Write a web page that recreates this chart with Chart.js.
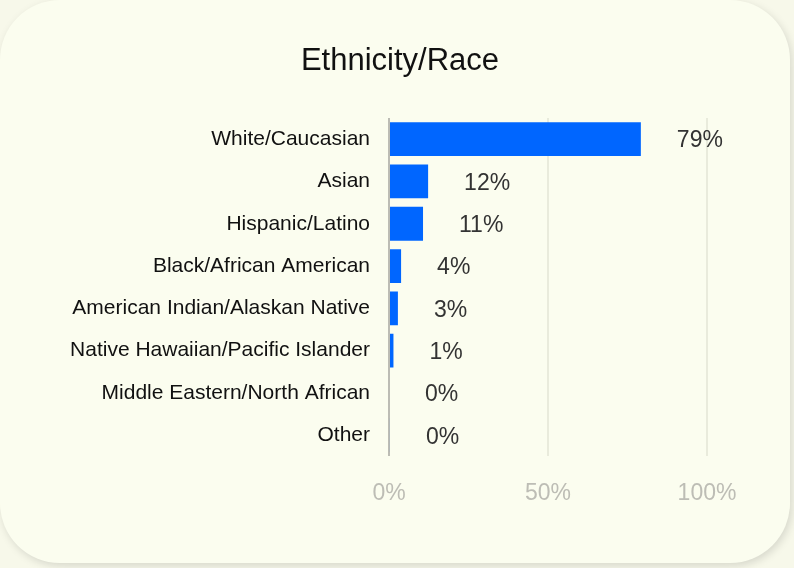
<!DOCTYPE html>
<html>
<head>
  <title>Ethnicity/Race</title>
  <style>
    html, body { margin: 0; padding: 0; background: #f7f8ea; }
    #card {
      position: absolute; left: 0; top: 0; width: 790px; height: 563px;
      background: #fbfdef; border-radius: 60px;
      box-shadow: 2px 3px 8px rgba(0, 0, 0, 0.13);
    }
    #chartBox { position: absolute; left: 0; top: 0; width: 794px; height: 568px; }
  </style>
</head>
<body>
  <div id="card"></div>
  <div id="chartBox"><canvas id="raceChart" width="794" height="568"></canvas></div>

  <script src="https://cdn.jsdelivr.net/npm/chart.js"></script>
  <script>
    const chartTitle = 'Ethnicity/Race';
    const categories = [
      'White/Caucasian',
      'Asian',
      'Hispanic/Latino',
      'Black/African American',
      'American Indian/Alaskan Native',
      'Native Hawaiian/Pacific Islander',
      'Middle Eastern/North African',
      'Other'
    ];
    const shares = [79.2, 12.3, 10.7, 3.8, 2.8, 1.4, 0, 0.3];
    const tickValues = [0, 50, 100];

    // title is centred on the card, not on the padded layout box
    const cardTitle = {
      id: 'cardTitle',
      afterDraw(chart) {
        const ctx = chart.ctx;
        ctx.save();
        ctx.font = '31px "Liberation Sans", Arial, sans-serif';
        ctx.fillStyle = '#111111';
        ctx.textAlign = 'center';
        ctx.textBaseline = 'middle';
        ctx.fillText(chartTitle, 400, 61);
        ctx.restore();
      }
    };

    const valueLabels = {
      id: 'valueLabels',
      afterDatasetsDraw(chart) {
        const ctx = chart.ctx;
        const meta = chart.getDatasetMeta(0);
        ctx.save();
        ctx.font = '23px "Liberation Sans", Arial, sans-serif';
        ctx.fillStyle = '#333333';
        ctx.textAlign = 'left';
        ctx.textBaseline = 'middle';
        meta.data.forEach((bar, i) => {
          ctx.fillText(Math.round(shares[i]) + '%', bar.x + 36, bar.y + 2);
        });
        ctx.restore();
      }
    };

    new Chart(document.getElementById('raceChart'), {
      type: 'bar',
      data: {
        labels: categories,
        datasets: [{
          data: shares,
          backgroundColor: '#0066ff',
          borderWidth: 0,
          barPercentage: 0.8,
          categoryPercentage: 1.0
        }]
      },
      options: {
        indexAxis: 'y',
        responsive: false,
        animation: false,
        layout: { padding: { left: 0, right: 87, top: 118, bottom: 38 } },
        plugins: {
          legend: { display: false },
          tooltip: { enabled: false },
          title: { display: false }
        },
        scales: {
          x: {
            min: 0,
            max: 100,
            afterBuildTicks(axis) { axis.ticks = tickValues.map(v => ({ value: v })); },
            ticks: {
              color: '#bdbdb5',
              padding: 23,
              font: { family: '"Liberation Sans", Arial, sans-serif', size: 23 },
              callback: v => v + '%'
            },
            grid: {
              drawTicks: false,
              lineWidth: 2,
              color: c => c.tick && c.tick.value === 0 ? '#bcbcb4' : '#e9ebdc'
            },
            border: { display: false }
          },
          y: {
            afterFit(axis) { axis.width = 389; },
            ticks: {
              color: '#111111',
              padding: 11,
              font: { family: '"Liberation Sans", Arial, sans-serif', size: 21 }
            },
            grid: { display: false },
            border: { display: false }
          }
        }
      },
      plugins: [valueLabels, cardTitle]
    });
  </script>
</body>
</html>
